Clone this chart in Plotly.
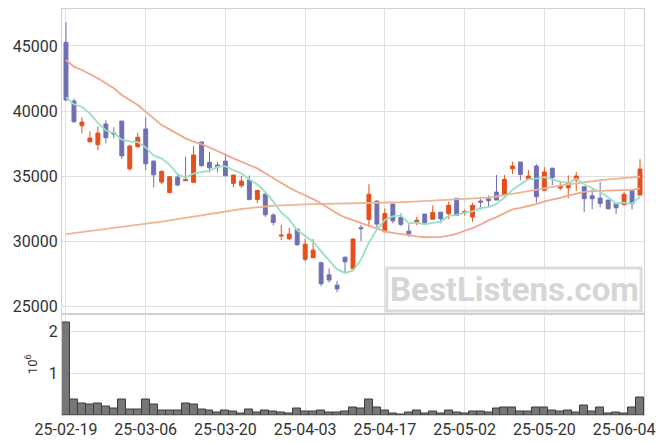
import plotly.graph_objects as go
from plotly.subplots import make_subplots

dates = ["25-02-19","25-02-20","25-02-21","25-02-24","25-02-25","25-02-26","25-02-27","25-02-28",
         "25-03-04","25-03-05","25-03-06","25-03-07","25-03-10","25-03-11","25-03-12","25-03-13","25-03-14",
         "25-03-17","25-03-18","25-03-19","25-03-20","25-03-21","25-03-24","25-03-25","25-03-26","25-03-27",
         "25-03-28","25-03-31","25-04-01","25-04-02","25-04-03","25-04-04","25-04-07","25-04-08","25-04-09",
         "25-04-10","25-04-11","25-04-14","25-04-15","25-04-16","25-04-17","25-04-18","25-04-21","25-04-22",
         "25-04-23","25-04-24","25-04-25","25-04-28","25-04-29","25-04-30","25-05-02","25-05-07","25-05-08",
         "25-05-09","25-05-12","25-05-13","25-05-14","25-05-15","25-05-16","25-05-19","25-05-20","25-05-21",
         "25-05-22","25-05-23","25-05-26","25-05-27","25-05-28","25-05-29","25-05-30","25-06-02","25-06-04",
         "25-06-05","25-06-09"]

open_ = [45280,40770,38870,37640,37410,39000,38310,39230,35560,37260,38620,36150,34540,33720,34920,34640,
         34520,37620,36060,35850,36150,34440,34260,34700,33210,33620,32000,30390,30180,30920,28600,28720,
         28340,27410,26620,28770,27880,31030,31670,33080,30720,32850,31820,30770,31410,32080,31690,32230,
         32110,33290,32180,31850,33080,33260,33770,33540,35560,36080,34750,35770,33920,35610,34080,34100,
         34690,34180,33490,33310,33160,32900,32800,33920,33540]
high = [46820,40950,39520,38440,38820,39290,38750,39230,37410,38330,39520,36200,35440,35000,35210,36490,
        37310,37620,36870,36080,36690,35080,35020,35050,33900,33620,32150,31260,31030,30920,30180,30160,
        28420,27900,26950,28800,30240,31260,34370,33150,32520,32850,32130,31290,31870,32080,32750,32230,
        33030,33290,32420,32960,33410,33500,35080,35080,36100,36080,35460,35920,35670,35610,34540,35060,
        35330,34230,33980,34540,33160,32900,33770,33920,36290]
low = [40800,39100,38290,37570,36980,37520,37900,36310,35410,37180,35460,34130,34390,33720,34230,34640,
       34520,35720,35290,35290,34990,34130,34100,33130,32930,31870,31210,30080,30080,29660,28440,28720,
       26540,26810,26080,27540,27880,30000,31060,31060,30720,31360,31160,30330,31230,31330,31690,31360,
       31690,31980,31980,31490,32420,32650,33160,33460,35150,34690,34690,32950,33840,34290,33920,33290,
       33850,32230,32440,32600,32440,32080,32800,32440,33540]
close = [40850,39180,39150,37920,38310,37950,38230,36560,37310,37980,35950,35100,35360,34950,34310,34740,
         36620,35800,35640,35720,35020,35080,34620,33210,33900,32030,31440,30460,30540,29720,29770,29310,
         26730,27010,26330,28410,30160,30960,33600,31310,32130,31560,31290,30560,31610,31410,32210,31720,
         32750,31980,32260,32750,33000,33110,33160,34750,35770,35130,35000,33410,35310,34900,34230,34490,
         35000,33260,33260,32900,32490,32570,33600,32870,35540]

ma5 = [41050,40520,40330,39820,39082,38502,38312,37794,37672,37606,37206,36580,36340,35868,35134,34892,
       35196,35284,35422,35704,35760,35452,35216,34730,34366,33768,33040,32208,31674,30838,30386,29960,
       29214,28508,27830,27558,27728,28574,29892,30888,31632,31912,31978,31370,31430,31286,31416,31502,
       31940,32014,32184,32292,32548,32620,32856,33354,33958,34384,34762,34812,34924,34750,34570,34468,
       34786,34376,34048,33782,33382,32896,32964,32886,33414]
ma20 = [43920,43410,43150,42850,42520,42130,41750,41230,40850,40460,39950,39440,38920,38590,38230,37900,
        37640,37450,37200,36950,36650,36360,36100,35850,35590,35210,34820,34440,34100,33800,33540,33230,
        32900,32520,32130,31820,31610,31350,31150,30950,30760,30640,30540,30460,30360,30300,30300,30330,
        30420,30560,30800,31000,31280,31600,31850,32150,32440,32560,32680,32850,33050,33180,33330,33500,
        33640,33780,33850,33870,33870,33880,33900,33940,34050]
ma_long = [30540,30620,30700,30780,30870,30950,31020,31090,31160,31230,31300,31400,31500,31600,31700,31800,
           31900,32000,32100,32200,32300,32400,32470,32540,32610,32680,32720,32750,32790,32820,32830,32840,
           32850,32850,32860,32870,32880,32900,32910,32930,32940,32960,32990,33020,33050,33080,33110,33140,
           33180,33210,33240,33270,33300,33340,33430,33540,33650,33760,33870,33980,34080,34180,34270,34360,
           34450,34540,34620,34680,34740,34800,34850,34900,34950]

volume = [2220000,380000,270000,240000,270000,215000,165000,360000,140000,140000,360000,260000,115000,
          115000,115000,285000,260000,140000,115000,65000,120000,96000,48000,140000,72000,120000,96000,
          64000,48000,145000,96000,96000,120000,72000,72000,96000,170000,145000,360000,170000,120000,48000,
          24000,72000,120000,48000,96000,48000,120000,72000,48000,96000,96000,72000,145000,170000,190000,
          96000,96000,170000,170000,120000,96000,120000,72000,220000,96000,190000,48000,72000,48000,170000,
          410000]

price_ticks = [25000, 30000, 35000, 40000, 45000]
vol_ticks = [1000000, 2000000]
vol_tick_text = ["1", "2"]
date_ticks = dates[::10]

UP = "#E64F1B"
DOWN = "#6F70B3"
FONT = "Roboto, sans-serif"

fig = make_subplots(rows=2, cols=1, shared_xaxes=True, vertical_spacing=0.0,
                    row_heights=[0.75, 0.25])

fig.add_trace(go.Scatter(x=dates, y=ma_long, mode="lines",
                         line=dict(color="#EEB792", width=1.8), hoverinfo="skip"), row=1, col=1)
fig.add_trace(go.Scatter(x=dates, y=ma20, mode="lines",
                         line=dict(color="#EFA88C", width=1.8), hoverinfo="skip"), row=1, col=1)
fig.add_trace(go.Scatter(x=dates, y=ma5, mode="lines",
                         line=dict(color="#98DFC5", width=1.8), hoverinfo="skip"), row=1, col=1)
fig.add_trace(go.Candlestick(x=dates, open=open_, high=high, low=low, close=close,
                             increasing=dict(line=dict(color=UP, width=1), fillcolor=UP),
                             decreasing=dict(line=dict(color=DOWN, width=1), fillcolor=DOWN),
                             whiskerwidth=0), row=1, col=1)
fig.add_trace(go.Bar(x=dates, y=volume, marker=dict(color="#777777",
                                                    line=dict(color="#3c3c3c", width=1))),
              row=2, col=1)

fig.update_layout(
    width=663, height=444,
    margin=dict(l=62, r=19, t=9, b=29, autoexpand=False),
    paper_bgcolor="white", plot_bgcolor="white",
    showlegend=False, bargap=0,
    font=dict(family=FONT, size=16, color="#333333"),
    xaxis_rangeslider_visible=False,
)

common_x = dict(type="category", range=[-0.5, len(dates) - 0.5], tickmode="array",
                tickvals=date_ticks, showgrid=True, gridcolor="#e0e0e0", gridwidth=1,
                showline=True, linecolor="#d0d0d0", mirror=True, ticks="", zeroline=False,
                automargin=False)
fig.update_xaxes(**common_x, row=1, col=1)
fig.update_xaxes(**common_x, row=2, col=1)
fig.update_xaxes(showticklabels=False, rangeslider_visible=False, row=1, col=1)
fig.update_xaxes(showticklabels=True, ticktext=date_ticks, tickfont=dict(size=16), row=2, col=1)

fig.update_yaxes(range=[24440, 47840], tickvals=price_ticks, tickformat="d", automargin=False,
                 showgrid=True, gridcolor="#e0e0e0", showline=True, linecolor="#d0d0d0",
                 mirror=True, ticks="", zeroline=False, tickfont=dict(size=16), row=1, col=1)
fig.update_yaxes(range=[0, 2434000], tickvals=vol_ticks, ticktext=vol_tick_text, automargin=False,
                 showgrid=True, gridcolor="#e0e0e0", showline=True, linecolor="#d0d0d0",
                 mirror=True, ticks="", zeroline=False, tickfont=dict(size=16),
                 title=dict(text="10<sup>6</sup>", font=dict(size=13), standoff=8),
                 row=2, col=1)

# watermark
fig.add_shape(type="rect", xref="paper", yref="paper", x0=0.558, x1=0.995, y0=0.256, y1=0.362,
              line=dict(color="#dcdcdc", width=3), fillcolor="rgba(255,255,255,0.7)", layer="above")
fig.add_annotation(xref="paper", yref="paper", x=0.777, y=0.309, text="<b>BestListens.com</b>",
                   showarrow=False, xanchor="center", yanchor="middle",
                   font=dict(family="Roboto, sans-serif", size=33, color="#d6d6d6"))

fig.write_html("out.html", config={"displayModeBar": False},
               post_script="document.body.style.margin='0';document.body.style.overflow='hidden';")
